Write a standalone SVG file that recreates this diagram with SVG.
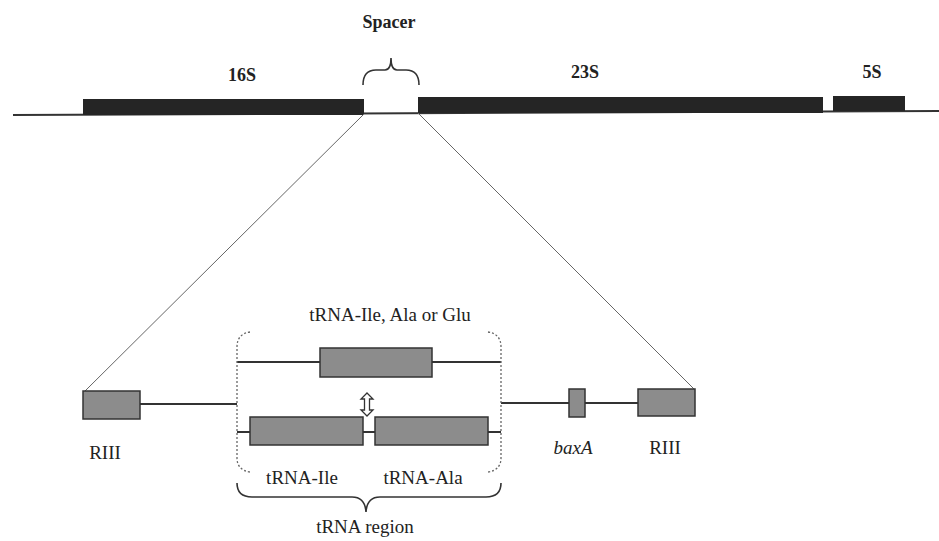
<svg xmlns="http://www.w3.org/2000/svg" width="939" height="541" viewBox="0 0 939 541">
<style>
.lbl{font-family:"Liberation Serif","Times New Roman",serif;font-size:19px;fill:#222;text-anchor:middle}
.b{font-weight:bold;font-size:18px}
.i{font-style:italic}
.bar{fill:#252525}
.gene{fill:#8c8c8c;stroke:#333;stroke-width:1.5}
.dna{stroke:#333;stroke-width:2;fill:none}
.zoom{stroke:#666;stroke-width:1;fill:none}
.dot{stroke:#666;stroke-width:1.3;fill:none;stroke-dasharray:2 2}
.brace{stroke:#333;stroke-width:1.6;fill:none}
</style>
<rect width="939" height="541" fill="#fff"/>
<g id="operon">
<line class="dna" x1="13" y1="115" x2="939" y2="111"/>
<path class="brace" d="M363,85 Q363,70 376,70 L385,70 Q391,70 391,58 Q391,70 397,70 L406,70 Q419,70 419,85"/>
<text class="lbl b" x="389" y="28">Spacer</text>
</g>
<g id="g16S">
<rect class="bar" x="83" y="99" width="281" height="16"/>
<text class="lbl b" x="242" y="81">16S</text>
</g>
<g id="g23S">
<rect class="bar" x="418" y="97" width="405" height="16"/>
<text class="lbl b" x="585" y="78">23S</text>
</g>
<g id="g5S">
<rect class="bar" x="833" y="96" width="72" height="15"/>
<text class="lbl b" x="872" y="78">5S</text>
</g>
<g id="connectors">
<line class="zoom" x1="364" y1="114" x2="85" y2="391"/>
<line class="zoom" x1="418" y1="113" x2="694" y2="389"/>
<line class="dna" x1="140" y1="404" x2="237" y2="404"/>
<line class="dna" x1="237" y1="362" x2="320" y2="362"/>
<line class="dna" x1="432" y1="362" x2="501" y2="362"/>
<line class="dna" x1="237" y1="432" x2="250" y2="432"/>
<line class="dna" x1="363" y1="432" x2="375" y2="432"/>
<line class="dna" x1="488" y1="432" x2="501" y2="432"/>
<line class="dna" x1="501" y1="403" x2="569" y2="403"/>
<line class="dna" x1="585" y1="403" x2="638" y2="403"/>
<polygon points="367,393 373,399 369.5,399 369.5,410 373,410 367,416 361,410 364.5,410 364.5,399 361,399" fill="#fff" stroke="#333" stroke-width="1.3"/>
</g>
<g id="RIII-left">
<rect class="gene" x="83" y="391" width="57" height="28"/>
<text class="lbl" x="105" y="459">RIII</text>
</g>
<g id="tRNA-region">
<path class="dot" d="M250,332 Q237,334 237,347 L237,458 Q237,470 250,472"/>
<path class="dot" d="M488,332 Q501,334 501,347 L501,458 Q501,470 488,472"/>
<text class="lbl" x="390" y="321">tRNA-Ile, Ala or Glu</text>
<path class="brace" d="M237,483 Q237,497 252,497 L352,497 Q365,497 366,512 Q367,497 380,497 L486,497 Q501,497 501,483"/>
<text class="lbl" x="365" y="533">tRNA region</text>
</g>
<g id="tRNA-variant">
<rect class="gene" x="320" y="348" width="112" height="29"/>
</g>
<g id="tRNA-Ile">
<rect class="gene" x="250" y="417" width="113" height="28"/>
<text class="lbl" x="302" y="484">tRNA-Ile</text>
</g>
<g id="tRNA-Ala">
<rect class="gene" x="375" y="417" width="113" height="28"/>
<text class="lbl" x="423" y="484">tRNA-Ala</text>
</g>
<g id="baxA">
<rect class="gene" x="569" y="389" width="16" height="28"/>
<text class="lbl i" x="573" y="454">baxA</text>
</g>
<g id="RIII-right">
<rect class="gene" x="638" y="389" width="57" height="27"/>
<text class="lbl" x="665" y="454">RIII</text>
</g>
</svg>
